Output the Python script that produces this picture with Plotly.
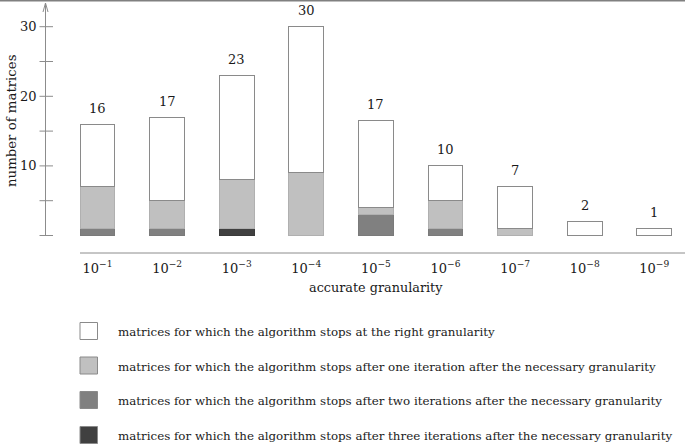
import plotly.graph_objects as go

# ---- data ----
categories = ["10<sup>−1</sup>", "10<sup>−2</sup>", "10<sup>−3</sup>", "10<sup>−4</sup>", "10<sup>−5</sup>",
              "10<sup>−6</sup>", "10<sup>−7</sup>", "10<sup>−8</sup>", "10<sup>−9</sup>"]
three_iter = [0, 0, 1, 0, 0, 0, 0, 0, 0]
two_iter = [1, 1, 0, 0, 3, 1, 0, 0, 0]
one_iter = [6, 4, 7, 9, 1, 4, 1, 0, 0]
right_gran = [9, 12, 15, 21, 12.5, 5, 6, 2, 1]
total_labels = [16, 17, 23, 30, 17, 10, 7, 2, 1]
y_tick_major = [10, 20, 30]
y_tick_all = [0, 5, 10, 15, 20, 25, 30]

series = [
    ("matrices for which the algorithm stops at the right granularity", right_gran, "#ffffff", "#8a8a8a"),
    ("matrices for which the algorithm stops after one iteration after the necessary granularity", one_iter, "#c0c0c0", "#b0b0b0"),
    ("matrices for which the algorithm stops after two iterations after the necessary granularity", two_iter, "#808080", "#7a7a7a"),
    ("matrices for which the algorithm stops after three iterations after the necessary granularity", three_iter, "#404040", "#3a3a3a"),
]
stack_order = [series[3], series[2], series[1], series[0]]

W, H = 685, 445
L, R, T, B = 30, 0, 0, 192
PW, PH = W - L - R, H - T - B
FONT = "DejaVu Serif"
FS = 11.85
TXT = "#1a1a1a"
AX = "#8c8c8c"


def px(x):
    return (x - L) / PW


def py(y):
    return (T + PH - y) / PH


def font(size=FS):
    return dict(family=FONT, size=size, color=TXT)


xs = list(range(len(categories)))
fig = go.Figure()
for name, vals, fill, line in stack_order:
    fig.add_trace(go.Bar(
        x=xs, y=vals, width=0.5, name=name,
        marker=dict(color=fill, line=dict(color=line, width=1)),
        showlegend=False, hoverinfo="skip",
    ))

totals = [sum(s[1][i] for s in series) for i in xs]
annotations = []
for i in xs:
    annotations.append(dict(x=i, y=totals[i], text=str(total_labels[i]), showarrow=False,
                            xanchor="center", yanchor="middle", yshift=16, font=font(13)))

# y axis tick labels
for v in y_tick_major:
    annotations.append(dict(xref="paper", yref="y", x=px(39), y=v, text=str(v), showarrow=False,
                            xanchor="right", yanchor="middle", font=font(13)))

# axis titles
annotations.append(dict(xref="paper", yref="paper", x=px(376), y=py(287), text="accurate granularity",
                        xanchor="center", yanchor="middle", showarrow=False, font=font(12.8)))
annotations.append(dict(xref="paper", yref="paper", x=px(11), y=py(121), text="number of matrices",
                        xanchor="center", yanchor="middle", textangle=-90, showarrow=False, font=font(13.3)))

shapes = []
# top border line
shapes.append(dict(type="line", xref="paper", yref="paper", x0=-1, x1=1, y0=py(0.5), y1=py(0.5),
                   line=dict(color="#808080", width=2)))
# y axis line + arrow
shapes.append(dict(type="line", xref="paper", yref="y", x0=px(45.5), x1=px(45.5), y0=0, y1=33.4,
                   line=dict(color=AX, width=1)))
shapes.append(dict(type="path", xref="paper", yref="paper",
                   path=f"M {px(43)},{py(12)} L {px(45.5)},{py(3)} L {px(48)},{py(12)}",
                   line=dict(color=AX, width=1)))
for v in y_tick_all:
    shapes.append(dict(type="line", xref="paper", yref="y", x0=px(39.5), x1=px(53), y0=v, y1=v,
                       line=dict(color=AX, width=1)))
# x axis line
shapes.append(dict(type="line", xref="paper", yref="paper", x0=px(80), x1=1, y0=0, y1=0,
                   line=dict(color=AX, width=1)))

# manual legend
legend_y = [331, 365.5, 400, 435]
for (name, vals, fill, line), yc in zip(series, legend_y):
    shapes.append(dict(type="rect", xref="paper", yref="paper", x0=px(80), x1=px(97.5),
                       y0=py(yc - 8.5), y1=py(yc + 8.5), fillcolor=fill, line=dict(color="#8a8a8a", width=1)))
    annotations.append(dict(xref="paper", yref="paper", x=px(116), y=py(yc + 1), text=name, showarrow=False,
                            xanchor="left", yanchor="middle", font=font()))

fig.update_layout(
    width=W, height=H, margin=dict(l=L, r=R, t=T, b=B, pad=0),
    barmode="stack", plot_bgcolor="white", paper_bgcolor="white",
    xaxis=dict(range=[-(67.5 / 69.6), (685 - 97.5) / 69.6], tickvals=xs, ticktext=categories,
               showgrid=False, zeroline=False, showline=False, ticks="outside", ticklen=3,
               tickcolor="rgba(0,0,0,0)", tickfont=font(13)),
    yaxis=dict(range=[-17.5 / 6.96, 235.5 / 6.96], showgrid=False, zeroline=False, showline=False,
               showticklabels=False, ticks=""),
    annotations=annotations, shapes=shapes, showlegend=False,
)
fig.write_html("out.html")
